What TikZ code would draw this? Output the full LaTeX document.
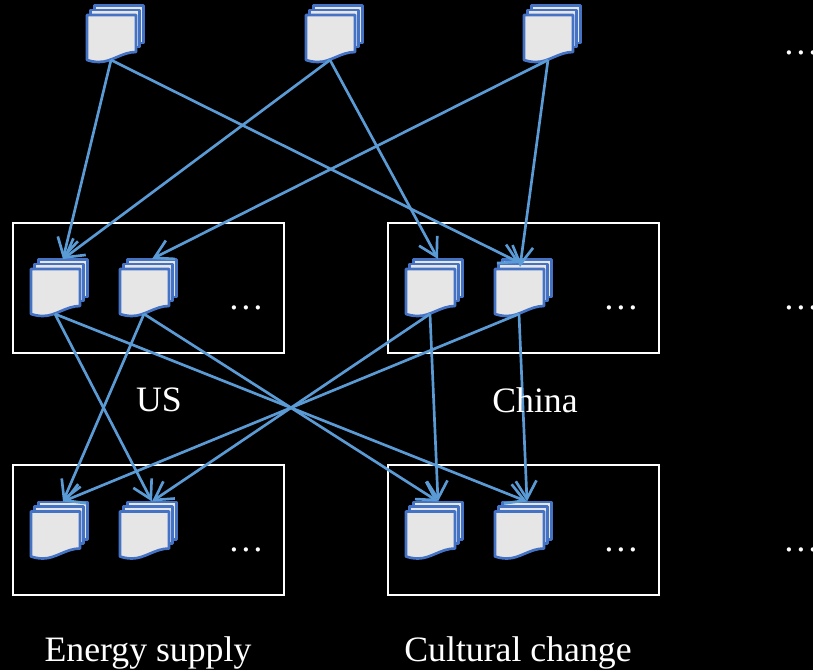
\documentclass[tikz,border=0pt]{standalone}
\usepackage{fontspec}
\setmainfont{Liberation Serif}
\usetikzlibrary{arrows.meta}
\definecolor{conn}{HTML}{5B9BD5}
\definecolor{docedge}{HTML}{4472C4}
\definecolor{docfill}{HTML}{E7E6E6}
\tikzset{
  x=0.75pt,y=-0.75pt,
  link/.style={draw=conn,line width=2pt,-{Straight Barb[length=13.5pt,width=15.5pt,line width=2pt]}},
  sheet/.style={draw=docedge,fill=docfill,line width=2pt,line join=round},
  panel/.style={draw=white,line width=1.5pt,anchor=north west,inner sep=0pt,minimum width=203.25pt},
  lbl/.style={text=white,font=\fontsize{26.8}{30}\selectfont,inner sep=0pt},
  more/.style={text=white,font=\fontsize{26.8}{30}\selectfont,inner sep=0pt,anchor=base},
  docstack/.pic={
    \draw[sheet] (7.5,-9.5) rectangle (56.5,28);
    \draw[sheet] (3.5,-5) rectangle (52.5,32);
    \draw[sheet] (0,0) -- (49,0) -- (49,37) .. controls (35,37) and (25,47) .. (12,47) .. controls (7,47) and (3,46) .. (0,45) -- cycle;
    \coordinate (-in) at (32,-10);
    \coordinate (-out) at (24,45);
  }
}
\begin{document}
\begin{tikzpicture}
\useasboundingbox (0,0) rectangle (813,670);
\clip (0,0) rectangle (813,670);
\fill[black] (0,0) rectangle (813,670);
\node[panel,minimum height=97pt] (usbox) at (11.5,222.2) {};
\node[panel,minimum height=97pt] (cnbox) at (386.5,222.2) {};
\node[panel,minimum height=97.75pt] (enbox) at (11.5,464) {};
\node[panel,minimum height=97.75pt] (cubox) at (386.5,464) {};
\pic (t1) at (87,15) {docstack};
\pic (t2) at (306,15) {docstack};
\pic (t3) at (524,15) {docstack};
\pic (u1) at (31,269) {docstack};
\pic (u2) at (120,269) {docstack};
\pic (c1) at (406,269) {docstack};
\pic (c2) at (495,269) {docstack};
\pic (e1) at (31,511.5) {docstack};
\pic (e2) at (120,511.5) {docstack};
\pic (g1) at (406,511.5) {docstack};
\pic (g2) at (495,511.5) {docstack};
\coordinate (c2-upper) at (520,263);
\coordinate (c2-lower) at (520,267);
\draw[link] (t1-out) -- (u1-in);
\draw[link] (t1-out) -- (c2-upper);
\draw[link] (t2-out) -- (u1-in);
\draw[link] (t2-out) -- (c1-in);
\draw[link] (t3-out) -- (u2-in);
\draw[link] (t3-out) -- (c2-lower);
\draw[link] (u1-out) -- (e2-in);
\draw[link] (u1-out) -- (g2-in);
\draw[link] (u2-out) -- (e1-in);
\draw[link] (u2-out) -- (g1-in);
\draw[link] (c1-out) -- (e2-in);
\draw[link] (c1-out) -- (g1-in);
\draw[link] (c2-out) -- (e1-in);
\draw[link] (c2-out) -- (g2-in);
\node[lbl] (lus) at (159,400) {US};
\node[lbl] (lcn) at (535,400) {China};
\node[lbl] (len) at (148,653) {Energy supply};
\node[lbl] (lcu) at (518,653) {Cultural change};
\node[more] (d1) at (246,309) {…};
\node[more] (d2) at (621,309) {…};
\node[more] (d3) at (246,551) {…};
\node[more] (d4) at (621,551) {…};
\node[more] (d5) at (801,55) {…};
\node[more] (d6) at (801,309) {…};
\node[more] (d7) at (801,551) {…};
\end{tikzpicture}
\end{document}
